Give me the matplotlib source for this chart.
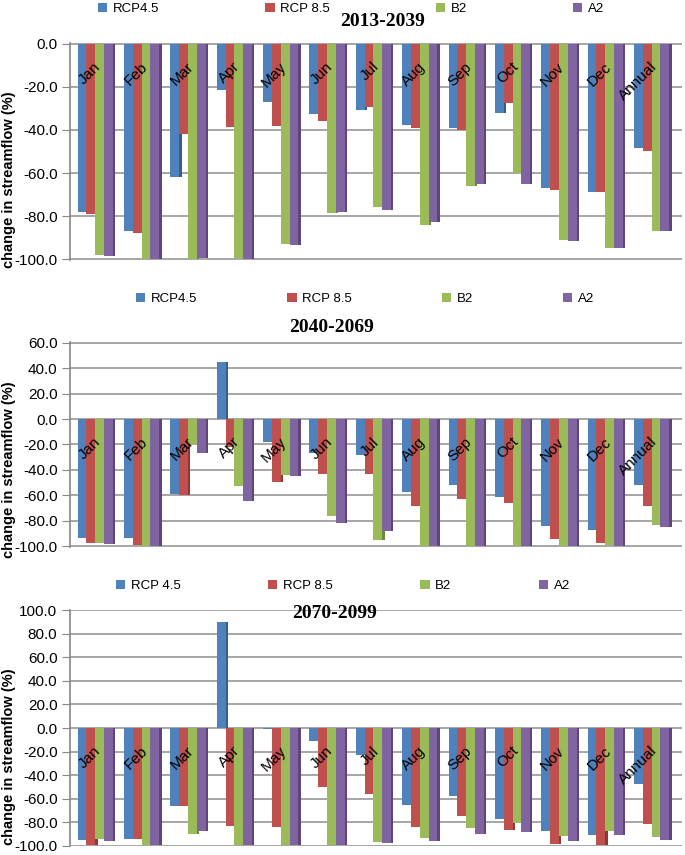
import numpy as np
import matplotlib.pyplot as plt
from matplotlib.ticker import FormatStrFormatter

plt.rcParams['font.family'] = ['Liberation Sans', 'DejaVu Sans']
plt.rcParams['axes.unicode_minus'] = False

# categories
months = ['Jan', 'Feb', 'Mar', 'Apr', 'May', 'Jun', 'Jul', 'Aug', 'Sep', 'Oct', 'Nov', 'Dec', 'Annual']

# 2013-2039
p1_rcp45 = [-78, -87, -62, -21.5, -27, -32.5, -30.5, -37.7, -39, -32, -67, -69, -48.6]
p1_rcp85 = [-79, -88, -42, -38.5, -38, -36, -29.5, -39, -40, -27.3, -68, -69, -49.7]
p1_b2 = [-98, -100, -100, -99.4, -93, -78.8, -76, -84, -66, -60, -91, -95, -87]
p1_a2 = [-98.5, -100, -99.7, -99.8, -93.5, -78, -77, -82.7, -65, -65, -91.7, -95, -87]

# 2040-2069
p2_rcp45 = [-93, -93, -58.7, 45, -18, -26.5, -28.4, -57, -52, -61, -84, -87, -51.6]
p2_rcp85 = [-97.6, -98.5, -59.7, -21.6, -49.7, -43, -43, -68, -63, -66, -94, -97, -68]
p2_b2 = [-97.6, -100, -20, -52.6, -44, -75.8, -94.7, -100, -100, -100, -100, -99, -83]
p2_a2 = [-98, -100, -26.6, -64, -45, -81.6, -88, -100, -100, -100, -100, -100, -85]

# 2070-2099
p3_rcp45 = [-95.4, -94.5, -66, 90, -0.8, -11, -23, -65.8, -57.5, -77.6, -88, -91.4, -48]
p3_rcp85 = [-99.7, -94.5, -66.7, -83, -84.5, -50, -56, -84.5, -74.7, -87, -99, -99.7, -81.6]
p3_b2 = [-94.8, -99.4, -90.5, -99.4, -99.4, -99.4, -97, -94, -84.8, -81, -92, -87.4, -93]
p3_a2 = [-96.5, -99.4, -87.4, -99.4, -99.4, -99.4, -97.7, -96, -90.5, -88.5, -96, -91.4, -95]

names_a = ['RCP4.5', 'RCP 8.5', 'B2', 'A2']
names_b = ['RCP 4.5', 'RCP 8.5', 'B2', 'A2']

face = ['#4F81BD', '#C0504D', '#9BBB59', '#8064A2']
side = ['#385D8A', '#8C3836', '#71893F', '#5C4776']

W, H = 685, 855
fig = plt.figure(figsize=(W / 100, H / 100), dpi=100)


def fx(px):
    return px / W


def fy(py):
    return 1 - py / H


def panel(top, bottom, title, title_xy, series, names, ylim, step, leg, ylab_y):
    ax = fig.add_axes([fx(70), fy(bottom), fx(682) - fx(70), fy(top) - fy(bottom)])
    x = np.arange(len(months))
    bw = 0.19
    sw = 0.05
    for k, vals in enumerate(series):
        off = (k - 1.5) * bw - 0.025
        ax.bar(x + off + bw / 2 + sw / 2, vals, width=sw, color=side[k], zorder=2 + 2 * k)
        ax.bar(x + off, vals, width=bw, color=face[k], label=names[k], zorder=3 + 2 * k)
    ax.set_xlim(-0.57, len(months) - 1 + 0.63)
    ax.set_ylim(ylim[0] - 0.4, ylim[1] + 0.4)
    ax.set_yticks(np.arange(ylim[0], ylim[1] + 1, step))
    ax.yaxis.set_major_formatter(FormatStrFormatter('%.1f'))
    ax.tick_params(axis='y', labelsize=11, length=6, color='#868686', pad=3)
    ax.set_xticks([])
    for v in np.arange(ylim[0], ylim[1] + 1, step):
        ax.axhline(v, color='#a6a6a6', lw=1.4, zorder=1)
    for s in ['top', 'right', 'bottom']:
        ax.spines[s].set_visible(False)
    ax.spines['left'].set_color('#868686')
    ax.spines['left'].set_linewidth(1.2)
    ax.patch.set_alpha(0)
    for i, m in enumerate(months):
        ax.annotate(m, xy=(i + 0.05, 0), xytext=(0, -15), textcoords='offset points',
                    rotation=45, ha='right', va='center', rotation_mode='anchor',
                    fontsize=11, zorder=20)
    fig.text(fx(title_xy[0]), fy(title_xy[1]), title, ha='center', va='center',
             fontsize=14, fontweight='bold', family='Liberation Serif')
    fig.text(fx(9), fy(ylab_y), 'change in streamflow (%)', rotation=90,
             ha='center', va='center', fontsize=10.5, fontweight='bold')
    h, l = ax.get_legend_handles_labels()
    fig.legend(h, l, loc='center', ncol=4, mode='expand', frameon=False,
               bbox_to_anchor=(fx(leg[0]), fy(leg[2]) - 0.01, fx(leg[1]) - fx(leg[0]), 0.02),
               borderaxespad=0, borderpad=0, handlelength=0.7, handleheight=0.7,
               handletextpad=0.4, fontsize=9.5)
    return ax


panel(43, 260, '2013-2039', (383, 22), [p1_rcp45, p1_rcp85, p1_b2, p1_a2], names_a,
      (-100, 0), 20, (98, 604, 9), 180)
panel(342, 547, '2040-2069', (332, 328), [p2_rcp45, p2_rcp85, p2_b2, p2_a2], names_a,
      (-100, 60), 20, (136, 594, 299), 470)
panel(610, 846, '2070-2099', (335, 613), [p3_rcp45, p3_rcp85, p3_b2, p3_a2], names_b,
      (-100, 100), 20, (116, 570, 586), 757)

fig.savefig('out.png', dpi=100)
